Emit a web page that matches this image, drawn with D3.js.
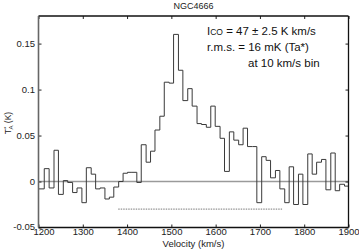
<!DOCTYPE html>
<html>
<head>
<meta charset="utf-8">
<script src="https://cdn.jsdelivr.net/npm/d3@7"></script>
<style>
body { margin: 0; background: #fff; }
svg { display: block; font-family: "Liberation Sans", Arial, sans-serif; }
</style>
</head>
<body>
<svg id="chart" width="359" height="249"></svg>
<script>
// channel edges (km/s) -- one more than the values
var edges = [1200, 1213, 1224, 1235, 1245, 1256, 1266, 1277, 1287, 1298,
  1308, 1319, 1329, 1339, 1350, 1360, 1370, 1381, 1391, 1401,
  1411, 1422, 1432, 1443, 1453, 1463, 1474, 1484, 1495, 1505,
  1516, 1526, 1537, 1547, 1558, 1568, 1579, 1589, 1599, 1610,
  1620, 1631, 1641, 1652, 1662, 1672, 1683, 1693, 1704, 1714,
  1724, 1735, 1745, 1756, 1766, 1776, 1787, 1797, 1808, 1818,
  1828, 1839, 1849, 1860, 1870, 1880, 1891, 1900];

// T_A* per channel (K)
var ta = [-0.008, 0.014, -0.007, 0.034, -0.014, 0.001, -0.001, -0.012, -0.007, -0.023,
  0.015, 0.008, -0.008, -0.007, -0.019, -0.017, -0.006, 0.000, 0.009, 0.010,
  0.010, -0.001, 0.040, 0.021, 0.033, 0.056, 0.071, 0.108, 0.107, 0.160,
  0.121, 0.088, 0.101, 0.082, 0.063, 0.062, 0.059, 0.082, 0.060, 0.047,
  0.011, 0.054, 0.045, 0.040, 0.058, 0.038, 0.038, -0.023, 0.027, 0.023,
  0.004, 0.012, -0.008, -0.023, 0.016, -0.025, 0.008, -0.025, 0.030, 0.008,
  0.021, 0.024, -0.009, 0.031, -0.010, -0.003, -0.005];

var xTicks = [1200, 1300, 1400, 1500, 1600, 1700, 1800, 1900];
var yTicks = [-0.05, 0, 0.05, 0.1, 0.15];

// dashed line under the emission (velocity range, level)
var windowVel = [1380, 1750];
var windowLevel = [-0.03, -0.03];

var notes = ["= 47 \u00b1 2.5 K km/s", "r.m.s. = 16 mK (Ta*)", "at 10 km/s bin"];

var margin = {top: 16, right: 10.5, bottom: 21.5, left: 38.5},
    width = 359 - margin.left - margin.right,
    height = 249 - margin.top - margin.bottom;

var svg = d3.select("#chart");
var g = svg.append("g").attr("transform", "translate(" + margin.left + "," + margin.top + ")");

var x = d3.scaleLinear().domain([1200, 1900]).range([0, width]);
var y = d3.scaleLinear().domain([-0.05, 0.18]).range([height, 0]);

svg.append("defs").append("clipPath").attr("id", "plot")
  .append("rect").attr("width", width).attr("height", height);

// zero line
g.append("line")
  .attr("x1", 0).attr("x2", width)
  .attr("y1", y(0)).attr("y2", y(0))
  .attr("stroke", "#9a9a9a")
  .attr("stroke-width", 1.6);

// dashed window line
g.append("line")
  .attr("x1", x(windowVel[0])).attr("x2", x(windowVel[1]))
  .attr("y1", y(windowLevel[0])).attr("y2", y(windowLevel[1]))
  .attr("stroke", "#555")
  .attr("stroke-width", 0.8)
  .attr("stroke-dasharray", "1.5,1");

// spectrum as histogram
var pts = ta.map(function(v, i) { return {X: edges[i], Y: v}; });
pts.push({X: edges[edges.length - 1], Y: ta[ta.length - 1]});

var line = d3.line()
  .x(function(d) { return x(d.X); })
  .y(function(d) { return y(d.Y); })
  .curve(d3.curveStepAfter);

g.append("path")
  .datum(pts)
  .attr("clip-path", "url(#plot)")
  .attr("fill", "none")
  .attr("stroke", "#3a3a3a")
  .attr("stroke-width", 1)
  .attr("d", line);

// axes, ticks pointing in
var fmt = function(d) { return String(d); };

var xAxisG = g.append("g")
  .attr("transform", "translate(0," + height + ")")
  .call(d3.axisBottom(x).tickValues(xTicks).tickFormat(fmt).tickSizeInner(-3).tickSizeOuter(0).tickPadding(1))
  .call(function(a) { a.select(".domain").remove(); });
// first label sits a bit right of the corner, like the original
xAxisG.selectAll(".tick text").filter(function(d) { return d === xTicks[0]; }).attr("dx", 5);

g.append("g")
  .call(d3.axisTop(x).tickValues(xTicks).tickFormat("").tickSizeInner(-3).tickSizeOuter(0))
  .call(function(a) { a.select(".domain").remove(); });

var yAxisG = g.append("g")
  .call(d3.axisLeft(y).tickValues(yTicks).tickFormat(fmt).tickSizeInner(-3).tickSizeOuter(0).tickPadding(3.5))
  .call(function(a) { a.select(".domain").remove(); });
yAxisG.selectAll(".tick text").filter(function(d) { return d === yTicks[0]; }).attr("dy", "0.2em");

g.append("g")
  .attr("transform", "translate(" + width + ",0)")
  .call(d3.axisRight(y).tickValues(yTicks).tickFormat("").tickSizeInner(-3).tickSizeOuter(0))
  .call(function(a) { a.select(".domain").remove(); });

g.selectAll(".tick line").attr("stroke", "#222");
g.selectAll(".tick text")
  .attr("fill", "#222")
  .style("font-size", "9.5px")
  .style("font-family", "Liberation Sans, Arial, sans-serif");

// frame
g.append("line").attr("x1", 0).attr("x2", width).attr("y1", 0).attr("y2", 0)
  .attr("stroke", "#111").attr("stroke-width", 1.3);
g.append("line").attr("x1", width).attr("x2", width).attr("y1", 0).attr("y2", height)
  .attr("stroke", "#111").attr("stroke-width", 1.3);
g.append("line").attr("x1", 0).attr("x2", width).attr("y1", height).attr("y2", height)
  .attr("stroke", "#111").attr("stroke-width", 1.3);
g.append("line").attr("x1", 0).attr("x2", 0).attr("y1", 0).attr("y2", height)
  .attr("stroke", "#666").attr("stroke-width", 1.6);

// title and axis labels
svg.append("text")
  .attr("x", margin.left + width / 2).attr("y", 9)
  .attr("text-anchor", "middle")
  .style("font-size", "9px")
  .attr("fill", "#222")
  .text("NGC4666");

svg.append("text")
  .attr("x", margin.left + width / 2).attr("y", 247)
  .attr("text-anchor", "middle")
  .style("font-size", "9.5px")
  .attr("fill", "#222")
  .text("Velocity (km/s)");

var yl = svg.append("text")
  .attr("transform", "translate(11,123) rotate(-90)")
  .attr("text-anchor", "middle")
  .style("font-size", "8.5px")
  .attr("fill", "#222");
yl.append("tspan").text("T");
yl.append("tspan").attr("dy", -3).style("font-size", "6px").text("*");
yl.append("tspan").attr("dx", -3).attr("dy", 5).style("font-size", "6px").text("A");
yl.append("tspan").attr("dy", -2).text(" (K)");

// annotation
var t1 = svg.append("text")
  .attr("x", 207).attr("y", 35)
  .style("font-size", "11.5px")
  .attr("fill", "#111");
t1.append("tspan").text("I");
t1.append("tspan").style("font-size", "8.5px").text("CO");
t1.append("tspan").text(" " + notes[0]);

svg.append("text")
  .attr("x", 207).attr("y", 51)
  .style("font-size", "11.5px")
  .attr("fill", "#111")
  .text(notes[1]);

svg.append("text")
  .attr("x", 248).attr("y", 67)
  .style("font-size", "11.5px")
  .attr("fill", "#111")
  .text(notes[2]);
</script>
</body>
</html>
